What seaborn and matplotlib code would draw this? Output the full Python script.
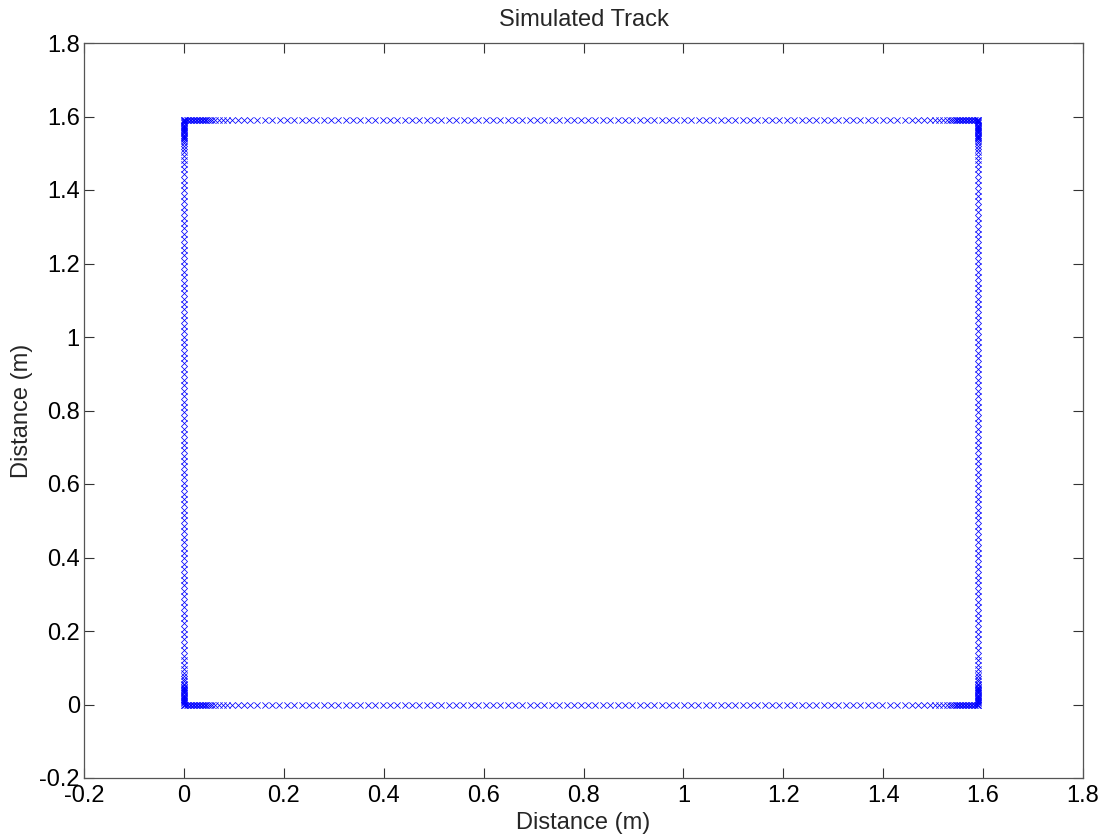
import numpy as np
import pandas as pd
import matplotlib
matplotlib.use("Agg")
import matplotlib.pyplot as plt
import seaborn as sns

# Positions (m) of the samples along one side of the square track, measured from a corner
side_positions = [
    0.000, 0.003, 0.006, 0.009, 0.012, 0.015, 0.018, 0.021, 0.024, 0.027, 0.030, 0.033,
    0.036, 0.039, 0.042, 0.045, 0.048,
    0.052, 0.057, 0.063, 0.070, 0.078, 0.087, 0.097, 0.108, 0.120, 0.133, 0.147,
    0.162, 0.177, 0.191, 0.206, 0.221, 0.236, 0.250, 0.265, 0.280, 0.294, 0.309, 0.324,
    0.339, 0.353, 0.368, 0.383, 0.398, 0.412, 0.427, 0.442, 0.456, 0.471, 0.486, 0.501,
    0.515, 0.530, 0.545, 0.559, 0.574, 0.589, 0.604, 0.618, 0.633, 0.648, 0.662, 0.677,
    0.692, 0.707, 0.721, 0.736, 0.751, 0.766, 0.780, 0.795, 0.810, 0.824, 0.839, 0.854,
    0.869, 0.883, 0.898, 0.913, 0.927, 0.942, 0.957, 0.972, 0.986, 1.001, 1.016, 1.030,
    1.045, 1.060, 1.075, 1.089, 1.104, 1.119, 1.134, 1.148, 1.163, 1.178, 1.192, 1.207,
    1.222, 1.237, 1.251, 1.266, 1.281, 1.295, 1.310, 1.325, 1.340, 1.354, 1.369, 1.384,
    1.398, 1.413, 1.428,
    1.443, 1.457, 1.470, 1.482, 1.493, 1.503, 1.512, 1.520, 1.527, 1.533, 1.538,
    1.542, 1.545, 1.548, 1.551, 1.554, 1.557, 1.560, 1.563, 1.566, 1.569, 1.572, 1.575,
    1.578, 1.581, 1.584, 1.587, 1.590,
]
side_length = 1.59

x_ticks = [-0.2, 0, 0.2, 0.4, 0.6, 0.8, 1, 1.2, 1.4, 1.6, 1.8]
y_ticks = [-0.2, 0, 0.2, 0.4, 0.6, 0.8, 1, 1.2, 1.4, 1.6, 1.8]
x_tick_labels = ["-0.2", "0", "0.2", "0.4", "0.6", "0.8", "1", "1.2", "1.4", "1.6", "1.8"]
y_tick_labels = ["-0.2", "0", "0.2", "0.4", "0.6", "0.8", "1", "1.2", "1.4", "1.6", "1.8"]

s = np.array(side_positions)
zeros = np.zeros_like(s)
full = np.full_like(s, side_length)
track_x = np.concatenate([s, full, side_length - s, zeros])
track_y = np.concatenate([zeros, s, full, side_length - s])
df = pd.DataFrame({"x": track_x, "y": track_y})

sns.set_style("white")
plt.rcParams["font.family"] = ["Liberation Sans", "DejaVu Sans"]

fig = plt.figure(figsize=(11.05, 8.34), dpi=100)
ax = fig.add_axes([84 / 1105, 56 / 834, 999 / 1105, 735 / 834])

sns.scatterplot(data=df, x="x", y="y", marker="x", color="#0000ff", s=20,
                linewidth=0.55, ax=ax, legend=False)

ax.set_xlim(-0.2, 1.8)
ax.set_ylim(-0.2, 1.8)
ax.set_xticks(x_ticks)
ax.set_xticklabels(x_tick_labels)
ax.set_yticks(y_ticks)
ax.set_yticklabels(y_tick_labels)
ax.tick_params(direction="in", length=7, width=0.8, color="#333333", labelcolor="black",
               labelsize=17, top=True, right=True, bottom=True, left=True)
ax.tick_params(axis="x", pad=5)
ax.tick_params(axis="y", pad=3)
for sp in ax.spines.values():
    sp.set_visible(True)
    sp.set_color("#555555")
    sp.set_linewidth(0.9)

ax.set_title("Simulated Track", fontsize=17, pad=12.5)
ax.set_xlabel("Distance (m)", fontsize=17, labelpad=3.5)
ax.set_ylabel("Distance (m)", fontsize=17, labelpad=4.5)

fig.savefig("out.png", dpi=100, facecolor="white")
